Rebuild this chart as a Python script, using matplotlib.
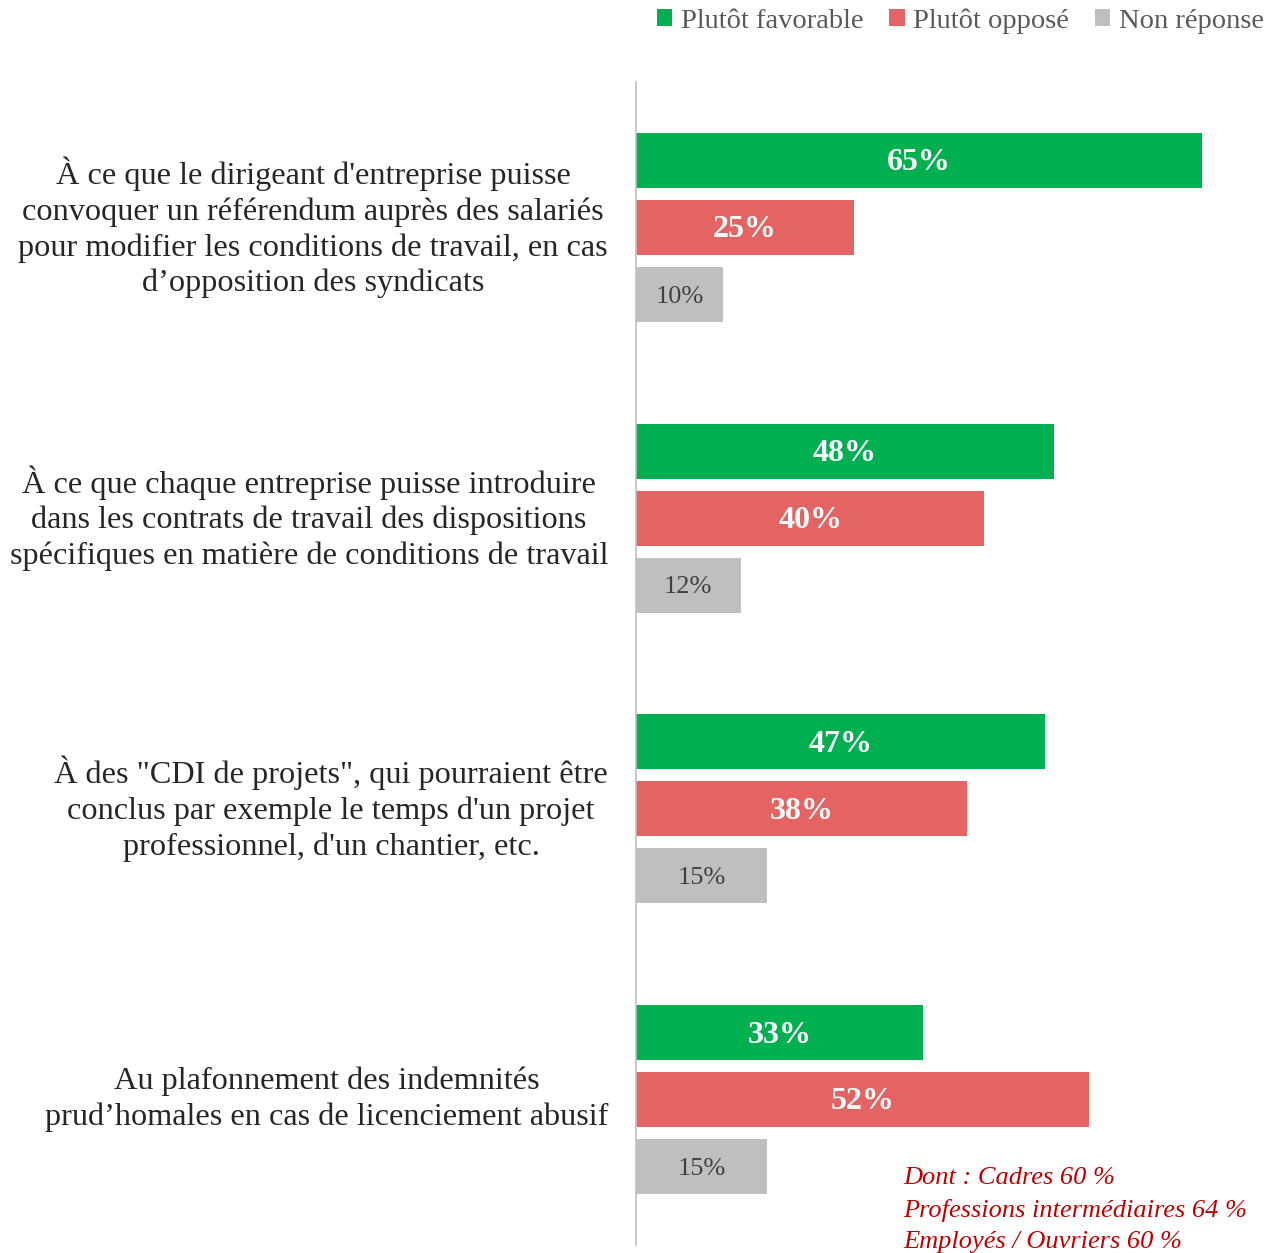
import matplotlib
matplotlib.use("Agg")
import matplotlib.pyplot as plt
from matplotlib.patches import Patch
import numpy as np

categories = [
    "À ce que le dirigeant d'entreprise puisse\nconvoquer un référendum auprès des salariés\npour modifier les conditions de travail, en cas\nd’opposition des syndicats",
    "À ce que chaque entreprise puisse introduire\ndans les contrats de travail des dispositions\nspécifiques en matière de conditions de travail",
    "À des \"CDI de projets\", qui pourraient être\nconclus par exemple le temps d'un projet\nprofessionnel, d'un chantier, etc.",
    "Au plafonnement des indemnités\nprud’homales en cas de licenciement abusif",
]
series_names = ["Plutôt favorable", "Plutôt opposé", "Non réponse"]
favorable = [65, 48, 47, 33]
oppose = [25, 40, 38, 52]
non_reponse = [10, 12, 15, 15]
note_lines = ["Dont : Cadres 60 %", "Professions intermédiaires 64 %", "Employés / Ouvriers 60 %"]

colors = ["#00B050", "#E46464", "#BFBFBF"]
FONT = "Liberation Serif"
plt.rcParams["font.family"] = [FONT, "DejaVu Serif"]

W, H = 1276, 1253
fig = plt.figure(figsize=(W / 100, H / 100), dpi=100)
ax = fig.add_axes([636 / W, 1 - 1245 / H, 1 - 636 / W, (1245 - 82) / H])

y = np.arange(len(categories))
step = 67 / 291
bh = 55 / 291
series = [favorable, oppose, non_reponse]
for k, (vals, col) in enumerate(zip(series, colors)):
    ypos = y + (k - 1) * step
    ax.barh(ypos, vals, height=bh, color=col, label=series_names[k])
    for yy, v in zip(ypos, vals):
        if k < 2:
            ax.text(v / 2, yy + 0.008, f"{v}%", ha="center", va="center", color="white",
                    fontsize=23, fontweight="bold")
        else:
            ax.text(v / 2, yy + 0.008, f"{v}%", ha="center", va="center", color="#404040",
                    fontsize=19)

ax.set_xlim(0, (W - 636) / 8.71)
ax.set_ylim(len(categories) - 0.5, -0.5)
for s in ["top", "right", "bottom"]:
    ax.spines[s].set_visible(False)
ax.spines["left"].set_color("#BFBFBF")
ax.spines["left"].set_linewidth(1.2)
ax.set_xticks([])
ax.set_yticks([])

for yy, cat in zip(y, categories):
    ax.annotate(cat, xy=(0, yy), xycoords=("axes fraction", "data"),
                xytext=(-28, 0), textcoords="offset pixels",
                ha="right", va="center", multialignment="center",
                fontsize=23.2, color="#262626", linespacing=1.28)

for i, line in enumerate(note_lines):
    fig.text(903 / W, 1 - (1178 + 32 * i) / H, line,
             ha="left", va="center", fontsize=19, style="italic", color="#C00000")

handles = [Patch(facecolor=c, edgecolor="none") for c in colors]
fig.legend(handles, series_names, loc="center right",
           bbox_to_anchor=(1264 / W, 1 - 21 / H),
           ncol=3, frameon=False, fontsize=20.5, handlelength=0.55, handleheight=0.55,
           handletextpad=0.3, columnspacing=0.9, labelcolor="#595959",
           borderaxespad=0, borderpad=0)

fig.savefig("out.png", dpi=100, facecolor="white")
